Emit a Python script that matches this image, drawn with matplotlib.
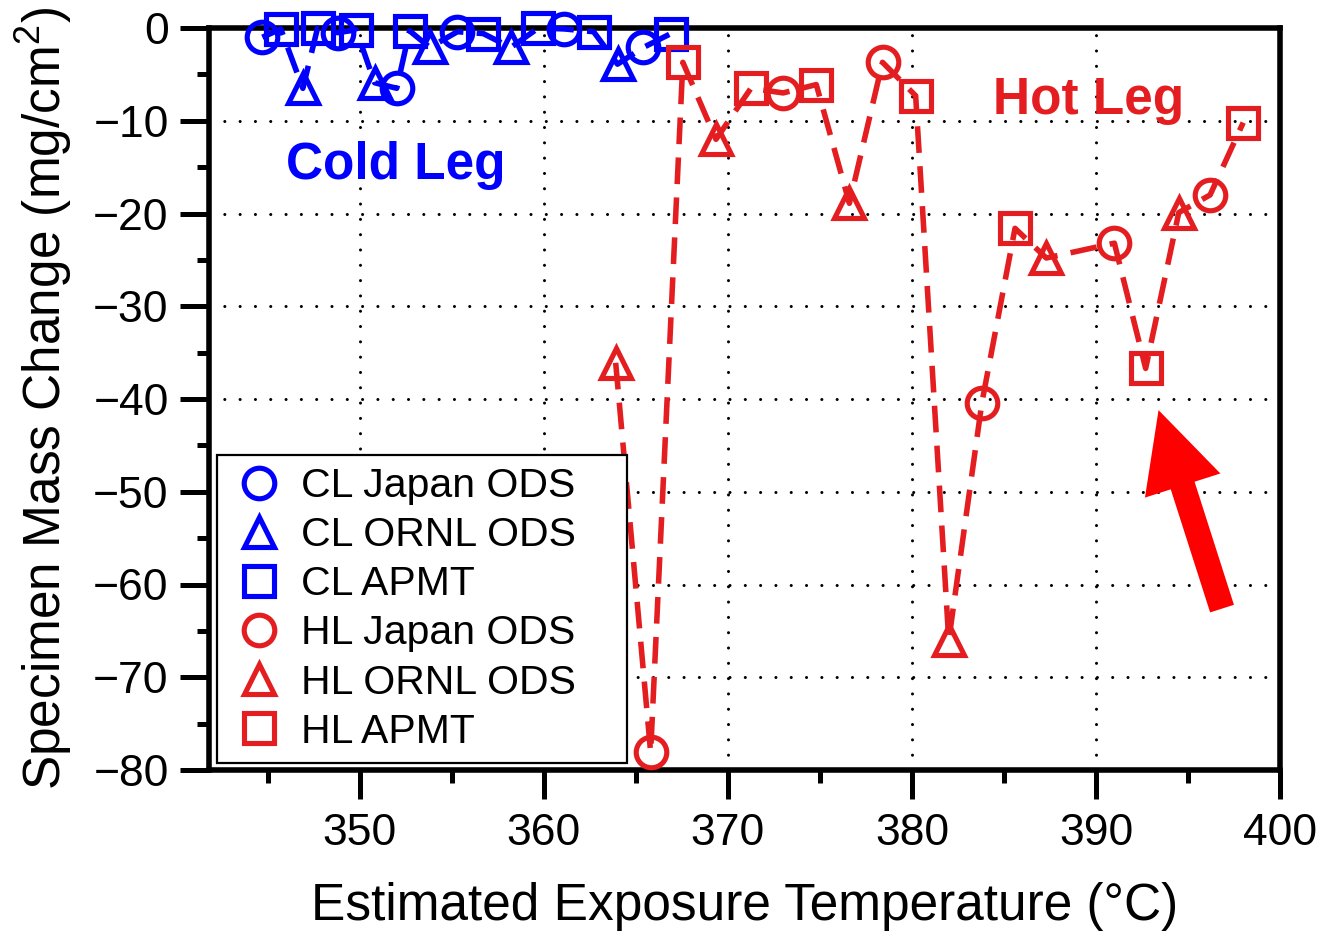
import numpy as np
import matplotlib
matplotlib.use('Agg')
import matplotlib.pyplot as plt
from matplotlib.patches import Rectangle
from matplotlib.ticker import MultipleLocator

plt.rcParams['font.family'] = ['Liberation Sans', 'DejaVu Sans']
plt.rcParams['mathtext.fontset'] = 'custom'
plt.rcParams['mathtext.rm'] = 'Liberation Sans'
plt.rcParams['mathtext.it'] = 'Liberation Sans'
plt.rcParams['mathtext.bf'] = 'Liberation Sans:bold'

# ---------------- data ----------------
cl_japan_t = [344.7, 348.8, 352.0, 355.3, 361.1, 365.4]
cl_japan_m = [-1.0, -0.5, -6.5, -0.4, -0.1, -2.1]

cl_ornl_t = [346.9, 350.8, 353.8, 358.2, 364.0]
cl_ornl_m = [-6.5, -5.9, -2.1, -2.1, -3.9]

cl_apmt_t = [345.7, 347.7, 349.8, 352.7, 356.7, 359.7, 362.7, 366.9]
cl_apmt_m = [-0.1, 0.0, -0.2, -0.3, -0.6, 0.0, -0.4, -0.6]

hl_japan_t = [365.8, 373.0, 378.4, 383.8, 391.0, 396.2]
hl_japan_m = [-78.1, -7.0, -3.7, -40.4, -23.2, -18.0]

hl_ornl_t = [363.9, 369.35, 376.6, 382.0, 387.3, 394.5]
hl_ornl_m = [-36.1, -12.0, -18.9, -66.0, -24.8, -19.9]

hl_apmt_t = [367.55, 371.25, 374.8, 380.2, 385.6, 392.7, 398.0]
hl_apmt_m = [-3.7, -6.5, -6.1, -7.3, -21.6, -36.7, -10.2]

x_ticks = [350, 360, 370, 380, 390, 400]
y_ticks = [0, -10, -20, -30, -40, -50, -60, -70, -80]

BLUE = '#0000FF'
RED = '#E41E20'
ARROW = '#FF0000'

fig = plt.figure(figsize=(13.22, 9.34), dpi=100)
ax = fig.add_axes([209/1322, 1-770/934, (1280-209)/1322, (770-28)/934])


def connect(ts, ms):
    t = np.concatenate([np.asarray(a, float) for a in ts])
    m = np.concatenate([np.asarray(a, float) for a in ms])
    o = np.argsort(t)
    return t[o], m[o]


dash = (0, (4.8, 2.4))
ct, cm = connect([cl_japan_t, cl_ornl_t, cl_apmt_t], [cl_japan_m, cl_ornl_m, cl_apmt_m])
ax.plot(ct, cm, color=BLUE, lw=4.0, ls=dash, clip_on=False, zorder=3)
ht, hm = connect([hl_japan_t, hl_ornl_t, hl_apmt_t], [hl_japan_m, hl_ornl_m, hl_apmt_m])
ax.plot(ht, hm, color=RED, lw=4.0, ls=dash, clip_on=False, zorder=5)

mk = dict(ls='none', ms=22, mfc='none', mew=3.7, clip_on=False)
handles = []
handles += ax.plot(cl_japan_t, cl_japan_m, marker='o', mec=BLUE, zorder=4, label='CL Japan ODS', **mk)
handles += ax.plot(cl_ornl_t, cl_ornl_m, marker='^', mec=BLUE, zorder=4, label='CL ORNL ODS', **mk)
handles += ax.plot(cl_apmt_t, cl_apmt_m, marker='s', mec=BLUE, zorder=4, label='CL APMT', **mk)
handles += ax.plot(hl_japan_t, hl_japan_m, marker='o', mec=RED, zorder=6, label='HL Japan ODS', **mk)
handles += ax.plot(hl_ornl_t, hl_ornl_m, marker='^', mec=RED, zorder=6, label='HL ORNL ODS', **mk)
handles += ax.plot(hl_apmt_t, hl_apmt_m, marker='s', mec=RED, zorder=6, label='HL APMT', **mk)

ax.set_xlim(341.8, 400)
ax.set_ylim(-80, 0)
ax.set_xticks(x_ticks)
ax.set_yticks(y_ticks)
ax.xaxis.set_minor_locator(MultipleLocator(5))
ax.yaxis.set_minor_locator(MultipleLocator(5))
ax.tick_params(which='major', direction='out', length=21, width=3.6, labelsize=32)
ax.tick_params(axis='x', which='major', pad=10)
ax.tick_params(axis='y', which='major', pad=8)
ax.tick_params(which='minor', direction='out', length=9, width=3.6)
for s in ax.spines.values():
    s.set_linewidth(4)
    s.set_zorder(2)

ax.grid(True, which='major', color='black', lw=2.2, ls=(0, (0.01, 5)))
for gl in ax.get_xgridlines() + ax.get_ygridlines():
    gl.set_dash_capstyle('round')
ax.set_axisbelow(True)

ax.set_xlabel('Estimated Exposure Temperature (°C)', fontsize=37, labelpad=20)
ax.set_ylabel('Specimen Mass Change (mg/cm$^2$)', fontsize=37, labelpad=14)

ax.text(346.0, -14.8, 'Cold Leg', color=BLUE, fontsize=37, fontweight='bold',
        va='center', ha='left', zorder=7)
ax.text(384.4, -7.8, 'Hot Leg', color=RED, fontsize=37, fontweight='bold',
        va='center', ha='left', zorder=7)

ax.annotate('', xy=(393.4, -41.2), xytext=(396.85, -62.6),
            arrowprops=dict(arrowstyle='simple,head_length=2.85,head_width=2.85,tail_width=0.9',
                            mutation_scale=20, color=ARROW, shrinkA=0, shrinkB=0, lw=0),
            zorder=8)

# legend frame
x0 = (217-209)/1071
y0 = (770-763)/742
w = (627-217)/1071
h = (763-455)/742
ax.add_patch(Rectangle((x0, y0), w, h, transform=ax.transAxes, facecolor='white',
                       edgecolor='black', lw=1.6, zorder=9))
leg = ax.legend(handles=handles, loc='upper left', bbox_to_anchor=(x0, y0+h),
                frameon=False, fontsize=29.5, borderpad=0.3, handlelength=1.45,
                handletextpad=0.3, labelspacing=0.27, borderaxespad=0, numpoints=1)
leg.set_zorder(10)

fig.savefig('out.png', dpi=100)
